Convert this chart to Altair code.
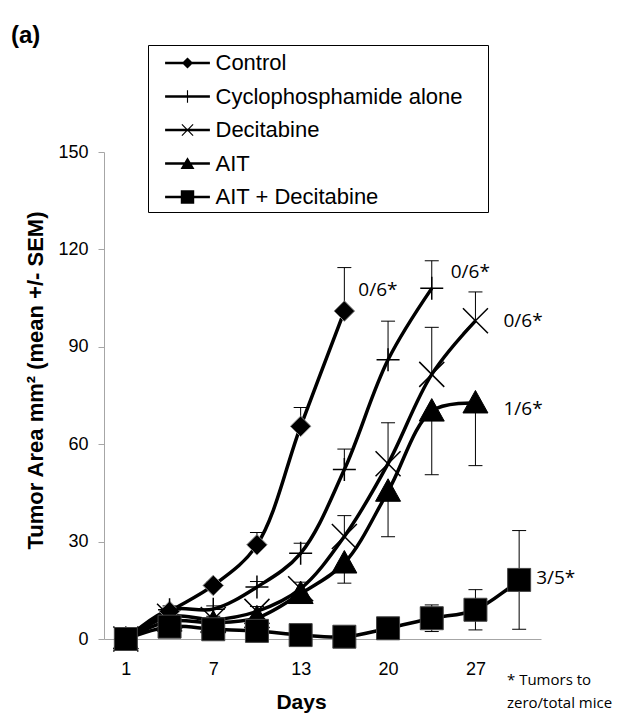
import altair as alt
import pandas as pd

# ---------------- data ----------------
days = [1, 4, 7, 10, 13, 16, 20, 23, 27, 30]
shown_days = [1, 7, 13, 20, 27]
series_names = ["Control", "Cyclophosphamide alone", "Decitabine", "AIT", "AIT + Decitabine"]

control_mean = [0, 8.5, 16.5, 29.0, 65.5, 101.0]
control_sem = [0, 1.0, 1.0, 3.8, 5.8, 13.4]
cyclo_mean = [0, 9.0, 9.2, 16.0, 26.4, 52.2, 86.0, 108.0]
cyclo_sem = [0, 1.2, 1.0, 1.7, 3.1, 6.3, 11.9, 8.5]
decit_mean = [0, 7.0, 6.0, 8.5, 15.5, 31.6, 54.0, 81.5, 98.0]
decit_sem = [0, 1.0, 1.0, 1.5, 2.0, 6.4, 12.6, 14.5, 8.9]
ait_mean = [0, 5.5, 5.0, 6.5, 14.0, 23.4, 45.5, 70.2, 72.7]
ait_sem = [0, 1.0, 1.0, 1.0, 2.0, 6.2, 14.0, 19.6, 19.3]
aitdec_mean = [0, 3.8, 3.0, 2.5, 1.2, 0.7, 3.3, 6.4, 9.0, 18.2]
aitdec_sem = [0, 0.5, 0.5, 0.5, 0.5, 0.5, 1.0, 4.1, 6.2, 15.2]
error_direction = ["+", "+", "+", "-", "±"]

end_labels = ["0/6*", "0/6*", "0/6*", "1/6*", "3/5*"]
footnote_lines = ["* Tumors to", "zero/total mice"]
panel_label = "(a)"

# ---------------- styles ----------------
label_offsets = [(14, -21), (19, -16), (28, 0), (28, 6), (17, -2)]
marker_paths = [
    "M0,-1L1,0L0,1L-1,0Z",
    "M-1,0L1,0M0,-1L0,1",
    "M-1,-1L1,1M-1,1L1,-1",
    "M0,-1L1,0.8L-1,0.8Z",
    "M-1,-1H1V1H-1Z",
]
marker_sizes = [420, 529, 625, 625, 529]
marker_filled = [True, False, False, True, True]
marker_stroke = ["#8a8a8a", "black", "black", "black", "#444444"]
marker_stroke_w = [1, 1.5, 1.5, 1, 1]

legend_line = "M-1.6,-0.09H1.6V0.09H-1.6Z"
legend_marks = [
    "M0,-0.4L0.4,0L0,0.4L-0.4,0Z",
    "M-0.04,-0.45H0.04V0.45H-0.04Z",
    "M-0.43,-0.37L-0.37,-0.43L0.43,0.37L0.37,0.43Z M-0.43,0.37L0.37,-0.43L0.43,-0.37L-0.37,0.43Z",
    "M0,-0.45L0.5,0.4L-0.5,0.4Z",
    "M-0.48,-0.48H0.48V0.48H-0.48Z",
]
legend_paths = [legend_line + " " + m for m in legend_marks]

FONT = "Liberation Sans"
LFONT = "Open Sans"
GRAY = "#a6a6a6"

# ---------------- tables ----------------
means = [control_mean, cyclo_mean, decit_mean, ait_mean, aitdec_mean]
sems = [control_sem, cyclo_sem, decit_sem, ait_sem, aitdec_sem]
rows, caps, labels = [], [], []
for k, (name, m, s, d) in enumerate(zip(series_names, means, sems, error_direction)):
    for i, (v, e) in enumerate(zip(m, s)):
        lo = v - e if d in "-±" else v
        hi = v + e if d in "+±" else v
        rows.append(dict(series=name, k=k, day=days[i], v=v, e=e, lo=lo, hi=hi))
        if e > 0:
            if d in "+±":
                caps.append(dict(series=name, day=days[i], c=hi))
            if d in "-±":
                caps.append(dict(series=name, day=days[i], c=lo))
    labels.append(dict(series=name, day=days[len(m) - 1], v=m[-1], label=end_labels[k]))

df = pd.DataFrame(rows)
err_df = df[df.e > 0]
cap_df = pd.DataFrame(caps)

x_axis = alt.Axis(values=shown_days, labelAngle=0, ticks=False, grid=False,
                  domainColor=GRAY, domainWidth=1, labelFont=FONT, labelFontSize=18,
                  labelColor="black", labelPadding=21, title="Days", titleFont=FONT,
                  titleFontSize=21, titleFontWeight="bold", titleColor="black",
                  titleX=197, titleY=69, titleAlign="center", titleBaseline="alphabetic")
x_scale = alt.Scale(type="point", padding=0.5, domain=days)
y_axis = alt.Axis(values=[0, 30, 60, 90, 120, 150], grid=False, tickSize=6,
                  tickColor=GRAY, domainColor=GRAY, labelFont=FONT, labelFontSize=18,
                  labelColor="black", labelPadding=10,
                  title="Tumor Area mm² (mean +/- SEM)", titleFont=FONT, titleFontSize=22,
                  titleFontWeight="bold", titleColor="black", titleAngle=270,
                  titleX=-62, titleY=228, titleAlign="center", titleBaseline="alphabetic")
y_scale = alt.Scale(domain=[0, 150])


def X():
    return alt.X("day:O", scale=x_scale, axis=x_axis)


def Y(field):
    return alt.Y(field, scale=y_scale, axis=y_axis)


layers = []
layers.append(alt.Chart(err_df).mark_rule(color="black", strokeWidth=1).encode(
    x=X(), y=Y("lo:Q"), y2="hi:Q"))
layers.append(alt.Chart(cap_df).mark_tick(color="black", thickness=1, size=14,
                                          orient="horizontal", opacity=1).encode(
    x=X(), y=Y("c:Q")))
layers.append(alt.Chart(df).mark_line(color="black", strokeWidth=3.5,
                                      interpolate="catmull-rom").encode(
    x=X(), y=Y("v:Q"), detail="series:N"))
for k, name in enumerate(series_names):
    sub = df[df.series == name]
    if marker_filled[k]:
        mk = alt.Chart(sub).mark_point(shape=marker_paths[k], size=marker_sizes[k],
                                       filled=True, fill="black", stroke=marker_stroke[k],
                                       strokeWidth=marker_stroke_w[k], opacity=1)
    else:
        mk = alt.Chart(sub).mark_point(shape=marker_paths[k], size=marker_sizes[k],
                                       filled=False, stroke=marker_stroke[k],
                                       strokeWidth=marker_stroke_w[k], opacity=1)
    layers.append(mk.encode(x=X(), y=Y("v:Q")))

for k, lab in enumerate(labels):
    dx, dy = label_offsets[k]
    layers.append(alt.Chart(pd.DataFrame([lab])).mark_text(
        align="left", baseline="middle", dx=dx, dy=dy, font=LFONT, fontSize=19,
        color="black").encode(x=X(), y=Y("v:Q"), text="label:N"))

# legend (symbols drawn through a shape scale)
legend_df = pd.DataFrame({"series": series_names})
layers.append(alt.Chart(legend_df).transform_filter("false").mark_point(
    filled=True, color="black", opacity=1).encode(
    shape=alt.Shape("series:N", scale=alt.Scale(domain=series_names, range=legend_paths),
                    legend=alt.Legend(orient="none", legendX=44, legendY=-107, title="\u00a0",
                                      titleOrient="right", titleFontSize=1, titlePadding=21,
                                      symbolSize=784, symbolFillColor="black",
                                      symbolStrokeWidth=0, symbolOffset=21.5,
                                      labelOffset=14, labelFont=FONT, labelFontSize=22,
                                      labelColor="black", labelLimit=600, rowPadding=8.5,
                                      padding=4, strokeColor="black", fillColor="white"))))

# panel label and footnote
layers.append(alt.Chart(pd.DataFrame({"t": [panel_label]})).mark_text(
    align="left", baseline="alphabetic", font=FONT, fontSize=24, fontWeight="bold",
    color="black").encode(x=alt.value(-93), y=alt.value(-109), text="t:N"))
layers.append(alt.Chart(pd.DataFrame({"t": [footnote_lines]})).mark_text(
    align="left", baseline="alphabetic", font=LFONT, fontSize=15, lineHeight=22.5,
    color="black").encode(x=alt.value(403), y=alt.value(533), text="t"))

chart = alt.layer(*layers).properties(
    width=437, height=487,
    padding={"left": 104, "top": 152, "right": 81, "bottom": 79},
    autosize=alt.AutoSizeParams(type="none"),
    background="white",
).configure_view(stroke=None)

chart.save("out.html", embed_options={"renderer": "svg", "actions": False})
